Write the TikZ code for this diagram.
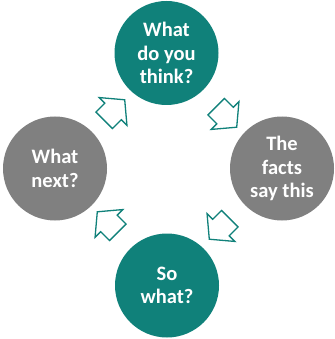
\documentclass[tikz,border=0pt]{standalone}
\usepackage{fontspec}
\setmainfont{Carlito}
\usetikzlibrary{shapes.arrows}

\definecolor{cycleteal}{RGB}{16,129,122}
\definecolor{cyclegrey}{RGB}{128,128,128}

\begin{document}
\begin{tikzpicture}[
    x=1pt, y=-1pt,
    stage/.style={circle, minimum size=104pt, inner sep=0pt, align=center,
                  text=white, font=\fontsize{20.5}{23.5}\selectfont\bfseries},
    turn/.style={single arrow, draw=cycleteal, fill=white, line width=1.3pt,
                 inner xsep=0pt, inner ysep=11pt, minimum height=29pt,
                 single arrow head extend=8pt, single arrow tip angle=100},
]
\useasboundingbox (0,0) rectangle (334,339);

% ---- the four stages ----
\node[stage, fill=cycleteal] (think)  at (166.5, 53)  {What\\do you\\think?};
\node[stage, fill=cyclegrey] (facts)  at (282, 168.5) {The\\facts\\say this};
\node[stage, fill=cycleteal] (sowhat) at (167, 285.5) {So\\what?};
\node[stage, fill=cyclegrey] (next)   at (55, 168.5)  {What\\next?};

% ---- hollow arrows, clockwise ----
\node[turn, rotate=45]   (a1) at (111, 113.5) {};
\node[turn, rotate=-45]  (a2) at (223, 113.5) {};
\node[turn, rotate=-135] (a3) at (223, 225.5) {};
\node[turn, rotate=135]  (a4) at (111, 225.5) {};

\end{tikzpicture}
\end{document}
